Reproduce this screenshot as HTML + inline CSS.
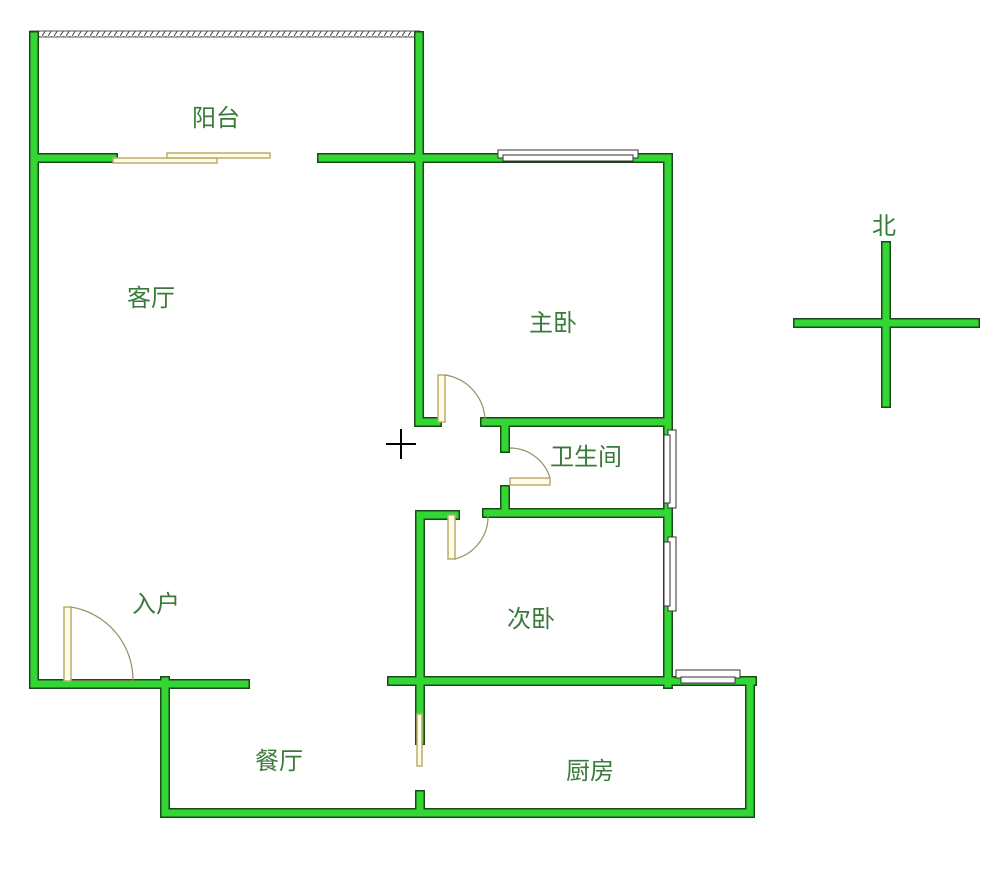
<!DOCTYPE html>
<html><head><meta charset="utf-8"><style>
html,body{margin:0;padding:0;background:#fff;width:1000px;height:883px;overflow:hidden}
text{font-family:"Liberation Sans","Noto Sans CJK SC",sans-serif;font-size:24px;fill:#3a7a3a}
</style></head><body>
<svg width="1000" height="883" viewBox="0 0 1000 883" xmlns="http://www.w3.org/2000/svg">
<defs>
<pattern id="h" width="6" height="6" patternUnits="userSpaceOnUse"><path d="M0 6 L4 0" stroke="#444" stroke-width="1"/></pattern>
</defs>
<rect x="30" y="31" width="390" height="6" fill="url(#h)" stroke="#555" stroke-width="1"/>
<g id="walls" fill="none" stroke-linecap="square">
<g stroke="#1a4a1a" stroke-width="10">
<path d="M34 36 V684 H245 M34 158 H113 M322 158 H668 V684 M419 36 V422 H437 M485 422 H668 M505 422 V448 M505 490 V513 H668 M487 513 H668 M455 515 H420 V740 M420 795 V813 M392 681 H752 M165 681 V813 H750 V681"/>
<path d="M798 323 H975 M886 246 V403"/>
</g>
<g stroke="#33d633" stroke-width="7">
<path d="M34 36 V684 H245 M34 158 H113 M322 158 H668 V684 M419 36 V422 H437 M485 422 H668 M505 422 V448 M505 490 V513 H668 M487 513 H668 M455 515 H420 V740 M420 795 V813 M392 681 H752 M165 681 V813 H750 V681"/>
<path d="M798 323 H975 M886 246 V403"/>
</g>
</g>
<!-- windows -->
<g fill="#fff" stroke="#333" stroke-width="1">
<rect x="498" y="150" width="140" height="8"/><rect x="503" y="155" width="130" height="6"/>
<rect x="668" y="430" width="8" height="78"/><rect x="664" y="435" width="6" height="68"/>
<rect x="668" y="537" width="8" height="74"/><rect x="664" y="542" width="6" height="64"/>
<rect x="676" y="670" width="64" height="8"/><rect x="681" y="677" width="54" height="6"/>
</g>
<!-- sliding doors -->
<g fill="#fffbe8" stroke="#b8ae6a" stroke-width="1.5">
<rect x="113" y="158" width="104" height="5"/>
<rect x="167" y="153" width="103" height="5"/>
<rect x="64" y="607" width="7" height="74"/>
<rect x="438" y="375" width="7" height="47"/>
<rect x="510" y="478" width="40" height="7"/>
<rect x="448" y="515" width="7" height="44"/>
<rect x="417" y="714" width="5" height="52"/>
</g>
<g fill="none" stroke="#9a9060" stroke-width="1.2">
<path d="M71 607 A74 74 0 0 1 133 681 H71"/>
<path d="M445 375 A47 47 0 0 1 485 422"/>
<path d="M550 478 A42 42 0 0 0 510 448"/>
<path d="M455 559 A44 44 0 0 0 488 515"/>
</g>
<path d="M386 444 H416 M401 429 V459" stroke="#000" stroke-width="2"/>
<text x="192" y="126">阳台</text>
<text x="127" y="306">客厅</text>
<text x="529" y="331">主卧</text>
<text x="550" y="465">卫生间</text>
<text x="132" y="612">入户</text>
<text x="507" y="627">次卧</text>
<text x="255" y="769">餐厅</text>
<text x="566" y="779">厨房</text>
<text x="872" y="234">北</text>
</svg>
</body></html>
